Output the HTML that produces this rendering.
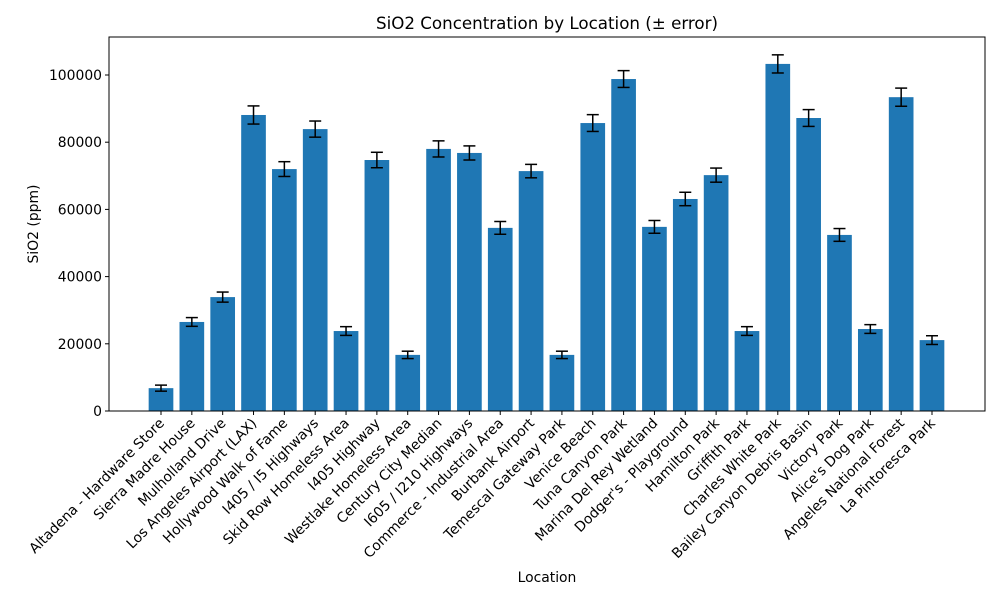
<!DOCTYPE html>
<html><head><meta charset="utf-8"><style>
body{margin:0;background:#fff;font-family:"DejaVu Sans",sans-serif}
</style></head><body>
<svg id="c" width="1000" height="600" font-family="DejaVu Sans, sans-serif"></svg>
<script>
const categories=["Altadena - Hardware Store","Sierra Madre House","Mulholland Drive","Los Angeles Airport (LAX)","Hollywood Walk of Fame","I405 / I5 Highways","Skid Row Homeless Area","I405 Highway","Westlake Homeless Area","Century City Median","I605 / I210 Highways","Commerce - Industrial Area","Burbank Airport","Temescal Gateway Park","Venice Beach","Tuna Canyon Park","Marina Del Rey Wetland","Dodger's - Playground","Hamilton Park","Griffith Park","Charles White Park","Bailey Canyon Debris Basin","Victory Park","Alice's Dog Park","Angeles National Forest","La Pintoresca Park"];
const values=[6800,26500,33900,88100,72000,83900,23800,74700,16700,78000,76800,54500,71400,16700,85700,98800,54800,63100,70200,23800,103300,87200,52400,24400,93400,21100];
const errors=[900,1300,1500,2700,2200,2400,1300,2300,1100,2400,2100,1900,2000,1100,2500,2500,1900,2000,2100,1300,2700,2500,1900,1300,2700,1300];
const yTicks=[0,20000,40000,60000,80000,100000];
const NS="http://www.w3.org/2000/svg",svg=document.getElementById('c');
const L=109,R=985,T=37,B=411;
const y=v=>B-v*(B-75)/100000;
const step=(932-161)/25;
const x=i=>161+i*step;
function mk(t,a,p){const e=document.createElementNS(NS,t);for(const k in a)e.setAttribute(k,a[k]);(p||svg).appendChild(e);return e;}
categories.forEach((c,i)=>{
 const w=step*0.8;
 const b=mk('rect',{x:x(i)-w/2,y:y(values[i]),width:w,height:B-y(values[i]),fill:'#1f77b4'});
 
 
 const g=mk('g',{stroke:'#000','stroke-width':1.5});
 
 
 const t=y(values[i]+errors[i]),bo=y(values[i]-errors[i]);
 mk('line',{x1:x(i),x2:x(i),y1:t,y2:bo},g);
 mk('line',{x1:x(i)-6,x2:x(i)+6,y1:t,y2:t},g);
 mk('line',{x1:x(i)-6,x2:x(i)+6,y1:bo,y2:bo},g);
 mk('line',{x1:x(i),x2:x(i),y1:B,y2:B+4,stroke:'#000'});
 const lb=mk('text',{x:x(i)+4,y:B+13,'font-size':13.9,'text-anchor':'end',transform:`rotate(-45 ${x(i)+4} ${B+13})`});
 lb.textContent=c;
 
 
});
yTicks.forEach(v=>{
 mk('line',{x1:L-4,x2:L,y1:y(v),y2:y(v),stroke:'#000'});
 const t=mk('text',{x:L-7,y:y(v)+5,'font-size':13.9,'text-anchor':'end'});
 t.textContent=v;
 
 
});
const fr=mk('rect',{x:L,y:T,width:R-L,height:B-T,fill:'none',stroke:'#000','stroke-width':1});


const ti=mk('text',{x:(L+R)/2,y:29,'font-size':16.7,'text-anchor':'middle'});ti.textContent='SiO2 Concentration by Location (± error)';


const xt=mk('text',{x:(L+R)/2,y:582,'font-size':13.9,'text-anchor':'middle'});xt.textContent='Location';


const yt=mk('text',{x:38,y:224,'font-size':13.9,'text-anchor':'middle',transform:'rotate(-90 38 224)'});yt.textContent='SiO2 (ppm)';


</script>
</body></html>
